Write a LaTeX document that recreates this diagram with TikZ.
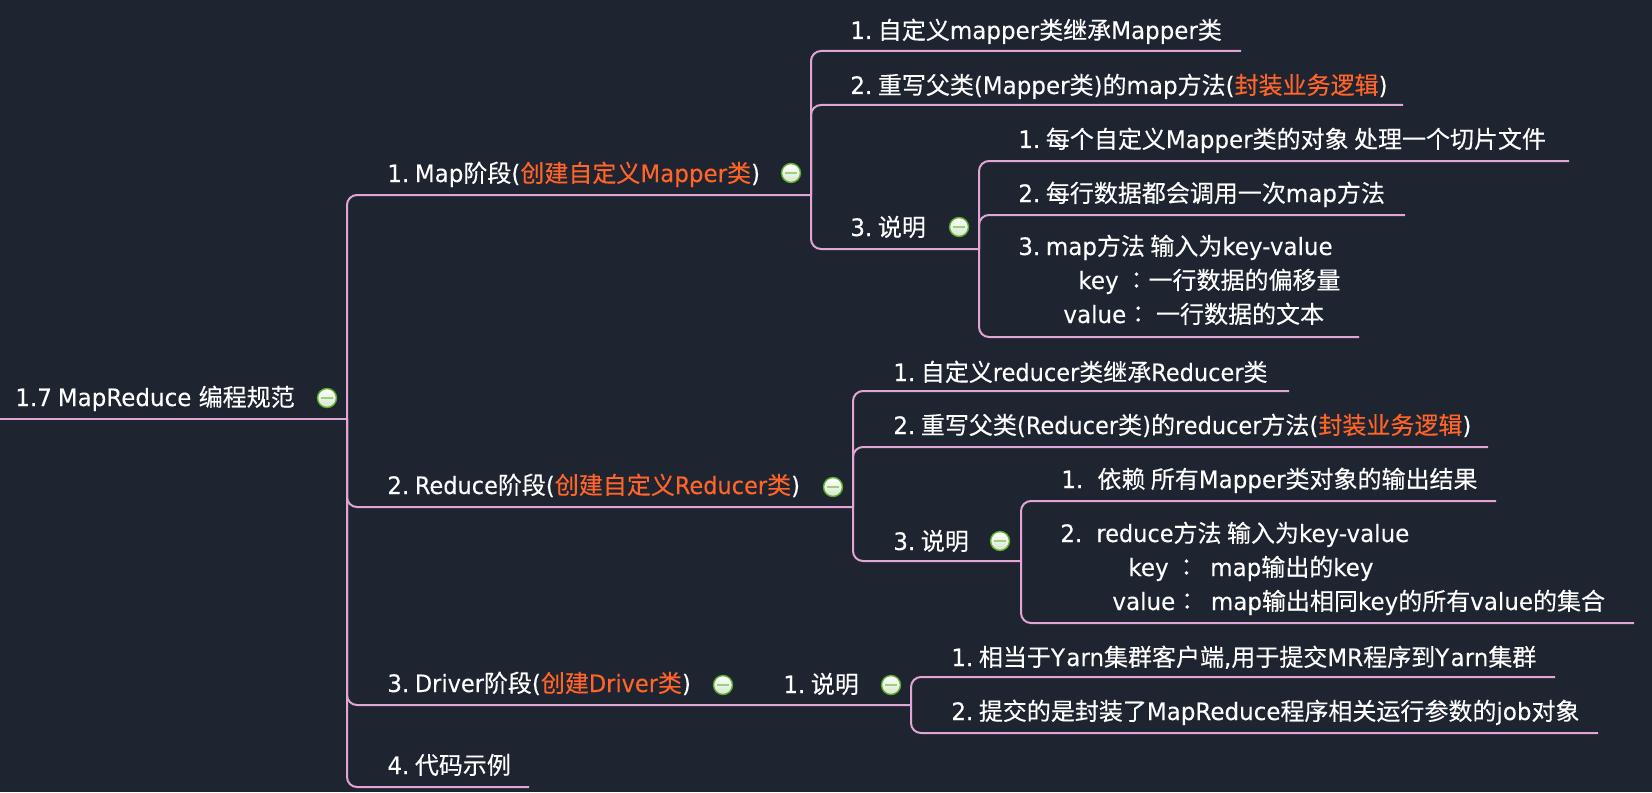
\documentclass[tikz,border=0pt]{standalone}
\usepackage{fontspec}
\setmainfont[FakeStretch=0.958,WordSpace=0.8,FakeBold=0.12]{DejaVu Sans}
\newfontfamily\cjfont[FakeBold=0.25]{Noto Sans CJK SC}
\newfontfamily\cjtc[FakeBold=0.25]{Noto Sans CJK TC}
\newfontfamily\narrowfont[FakeStretch=0.935,WordSpace=0.8,FakeBold=0.12]{DejaVu Sans}
\newcommand{\cj}[1]{{\cjfont #1}}
\newcommand{\cl}{{\cjtc ：}}
\newcommand{\rd}[1]{{\narrowfont #1}}
\newcommand{\pn}[1]{#1.\kern-.15pt\ }
\newcommand{\pw}[1]{#1.\ \kern1.2pt\ }
\newcommand{\yn}{Y\kern.7pt arn}
\definecolor{bgc}{HTML}{1E2430}
\definecolor{linec}{HTML}{E2A6D6}
\definecolor{orangec}{HTML}{FF6428}
\definecolor{rimc}{HTML}{5CAD2A}
\definecolor{barc}{HTML}{9CD07C}
\definecolor{iconlow}{HTML}{D5E5CD}
\newcommand{\org}[1]{\textcolor{orangec}{#1}}
\tikzset{
  item/.style={anchor=base west,inner sep=0pt,text=white,font=\fontsize{12}{17}\selectfont},
  multi/.style={item,align=left},
  branch/.style={draw=linec,line width=1pt,rounded corners=5pt},
  minusicon/.style={circle,draw=rimc,line width=0.7pt,minimum size=9.5pt,inner sep=0pt,
    top color=white,bottom color=iconlow,
    path picture={\draw[barc,line width=1pt] (path picture bounding box.center) ++(-3pt,0) -- ++(6pt,0);}},
}
\begin{document}
\begin{tikzpicture}[x=0.5pt,y=-0.5pt]
\useasboundingbox (0,0) rectangle (1652,792);
\fill[bgc] (0,0) rectangle (1652,792);

% junctions
\coordinate (rootstart) at (0,419);
\coordinate (jroot) at (347,419);
\coordinate (jmap) at (811,195);
\coordinate (jmapx) at (979,249);
\coordinate (jred) at (853,507);
\coordinate (jredx) at (1021,561);
\coordinate (jdrv) at (911,705);
\coordinate (ecode) at (529,787);
\coordinate (ea1) at (1241,51);
\coordinate (ea2) at (1403,105);
\coordinate (eb1) at (1569,161);
\coordinate (eb2) at (1405,215);
\coordinate (eb3) at (1359,337);
\coordinate (ec1) at (1289,391);
\coordinate (ec2) at (1488,447);
\coordinate (ed1) at (1496,501);
\coordinate (ed2) at (1634,623);
\coordinate (ee1) at (1555,677);
\coordinate (ee2) at (1598,733);

% connectors
\draw[branch] (rootstart) -- (jroot);
\draw[branch] (jroot) |- (jmap);
\draw[branch] (jroot) |- (jred);
\draw[branch] (jroot) |- (jdrv);
\draw[branch] (jroot) |- (ecode);
\draw[branch] (jmap) |- (ea1);
\draw[branch] (jmap) |- (ea2);
\draw[branch] (jmap) |- (jmapx);
\draw[branch] (jmapx) |- (eb1);
\draw[branch] (jmapx) |- (eb2);
\draw[branch] (jmapx) |- (eb3);
\draw[branch] (jred) |- (ec1);
\draw[branch] (jred) |- (ec2);
\draw[branch] (jred) |- (jredx);
\draw[branch] (jredx) |- (ed1);
\draw[branch] (jredx) |- (ed2);
\draw[branch] (jdrv) |- (ee1);
\draw[branch] (jdrv) |- (ee2);

% texts
\node[item] (root) at (15,406) {1.7\ MapReduce\kern.75pt\ \cj{编程规范}};
\node[item] (map) at (387,182) {\pn{1}Map\cj{阶段}(\org{\cj{创建自定义}Mapper\cj{类}})};
\node[item] (reduce) at (387,494) {\pn{2}\rd{Reduce}\cj{阶段}(\org{\cj{创建自定义}\rd{Reducer}\cj{类}})};
\node[item] (driver) at (387,692) {\pn{3}\rd{Driver}\cj{阶段}(\org{\cj{创建}\rd{Driver}\cj{类}})};
\node[item] (code) at (387,774) {\pn{4}\cj{代码示例}};

\node[item] (a1) at (850,39) {\pn{1}\cj{自定义}mapper\cj{类继承}Mapper\cj{类}};
\node[item] (a2) at (850,94) {\pn{2}\cj{重写父类}(Mapper\cj{类})\cj{的}map\cj{方法}(\org{\cj{封装业务逻辑}})};
\node[item] (a3) at (850,236) {\pn{3}\cj{说明}};
\node[item] (b1) at (1018,148) {\pn{1}\cj{每个自定义}Mapper\cj{类的对象 处理一个切片文件}};
\node[item] (b2) at (1018,202) {\pn{2}\cj{每行数据都会调用一次}map\cj{方法}};
\node[multi] (b3) at (1018,323) {\pn{3}map\cj{方法 输入为}key-value\\
  \hspace*{30pt}key \cl\cj{一行数据的偏移量}\\
  \hspace*{22.5pt}value\cl{} \cj{一行数据的文本}};

\node[item] (c1) at (893,381) {\pn{1}\cj{自定义}\rd{reducer}\cj{类继承}\rd{Reducer}\cj{类}};
\node[item] (c2) at (893,434) {\pn{2}\cj{重写父类}(\rd{Reducer}\cj{类})\cj{的}\rd{reducer}\cj{方法}(\org{\cj{封装业务逻辑}})};
\node[item] (c3) at (893,550) {\pn{3}\cj{说明}};
\node[item] (d1) at (1061,488) {\pw{1}\cj{依赖 所有}Mapper\cj{类对象的输出结果}};
\node[multi] (d2) at (1060,610) {\pw{2}\rd{reduce}\cj{方法 输入为}key-value\\
  \hspace*{34pt}key \cl\ \ map\cj{输出的}key\\
  \hspace*{26pt}value\cl\ \ map\cj{输出相同}key\cj{的所有}value\cj{的集合}};

\node[item] (e0) at (783,693) {\pn{1}\cj{说明}};
\node[item] (e1) at (951,666) {\pn{1}\cj{相当于}\yn\cj{集群客户端},\cj{用于提交}MR\cj{程序到}\yn\cj{集群}};
\node[item] (e2) at (951,720) {\pn{2}\cj{提交的是封装了}MapReduce\cj{程序相关运行参数的}job\cj{对象}};

% collapse icons
\node[minusicon] (iroot) at (327,398) {};
\node[minusicon] (imap) at (791,173) {};
\node[minusicon] (ia3) at (959,227) {};
\node[minusicon] (ired) at (833,487) {};
\node[minusicon] (ic3) at (1000,541) {};
\node[minusicon] (idrv) at (723,685) {};
\node[minusicon] (ie0) at (891,685) {};
\end{tikzpicture}
\end{document}
